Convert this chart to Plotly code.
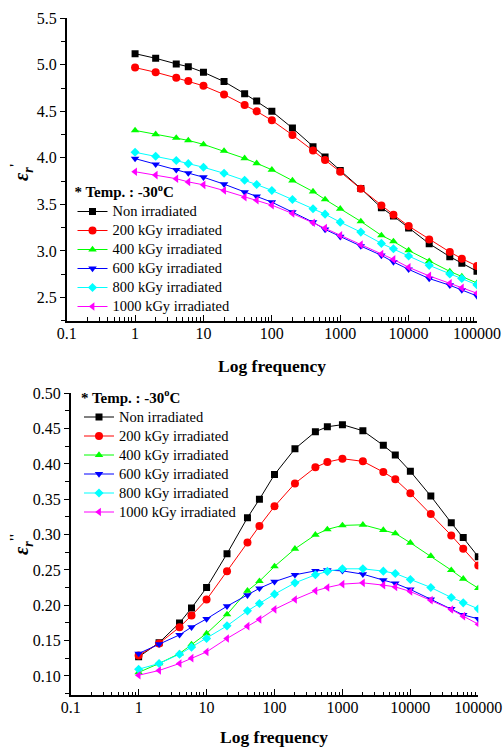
import plotly.graph_objects as go

# ---------------- data ----------------
freq = [1, 2, 4, 6, 10, 20, 40, 60, 100, 200, 400, 600, 1000, 2000, 4000,
        6000, 10000, 20000, 40000, 60000, 100000]

series_names = ["Non irradiated", "200 kGy irradiated", "400 kGy irradiated",
                "600 kGy irradiated", "800 kGy irradiated", "1000 kGy irradiated"]

# real part eps_r'
eps1_non = [5.12, 5.07, 5.01, 4.98, 4.92, 4.82, 4.69, 4.61, 4.50, 4.32, 4.12, 4.01,
            3.865, 3.67, 3.464, 3.374, 3.245, 3.078, 2.938, 2.867, 2.781]
eps1_200 = [4.97, 4.92, 4.86, 4.825, 4.774, 4.681, 4.568, 4.50, 4.403, 4.246, 4.078,
            3.978, 3.85, 3.667, 3.488, 3.389, 3.267, 3.124, 2.988, 2.917, 2.838]
eps1_400 = [4.295, 4.253, 4.214, 4.188, 4.145, 4.074, 3.995, 3.942, 3.872, 3.756, 3.638,
            3.553, 3.453, 3.317, 3.167, 3.102, 3.005, 2.89, 2.78, 2.725, 2.655]
eps1_600 = [3.992, 3.931, 3.871, 3.837, 3.792, 3.717, 3.631, 3.585, 3.524, 3.417, 3.309,
            3.231, 3.153, 3.052, 2.952, 2.881, 2.802, 2.703, 2.631, 2.580, 2.516]
eps1_800 = [4.06, 4.017, 3.971, 3.938, 3.899, 3.834, 3.759, 3.713, 3.65, 3.553, 3.453,
            3.395, 3.309, 3.202, 3.081, 3.024, 2.945, 2.845, 2.752, 2.703, 2.635]
eps1_1000 = [3.851, 3.815, 3.776, 3.742, 3.710, 3.649, 3.578, 3.545, 3.492, 3.402, 3.303,
             3.245, 3.167, 3.067, 2.967, 2.909, 2.824, 2.731, 2.652, 2.602, 2.545]

# imaginary part eps_r''
eps2_non = [0.127, 0.147, 0.175, 0.196, 0.225, 0.273, 0.324, 0.350, 0.385, 0.4215, 0.4456,
            0.4527, 0.4556, 0.447, 0.4263, 0.4126, 0.3895, 0.3545, 0.3167, 0.296, 0.2686]
eps2_200 = [0.129, 0.146, 0.169, 0.1855, 0.208, 0.248, 0.289, 0.3122, 0.340, 0.3725, 0.3952,
            0.4027, 0.4074, 0.4037, 0.3885, 0.3782, 0.3584, 0.3292, 0.2989, 0.280, 0.2564]
eps2_400 = [0.105, 0.1176, 0.1317, 0.1445, 0.160, 0.187, 0.2204, 0.234, 0.2549, 0.2799, 0.2997,
            0.3074, 0.313, 0.3139, 0.3064, 0.3017, 0.2884, 0.2696, 0.2497, 0.2374, 0.2242]
eps2_600 = [0.1317, 0.1449, 0.1581, 0.169, 0.1807, 0.1987, 0.2143, 0.224, 0.2334, 0.2431, 0.2487,
            0.2497, 0.2487, 0.244, 0.2356, 0.2309, 0.2224, 0.2082, 0.1949, 0.1864, 0.1807]
eps2_800 = [0.1095, 0.1176, 0.1307, 0.1407, 0.153, 0.1709, 0.1921, 0.2025, 0.2157, 0.2317, 0.2431,
            0.2479, 0.2516, 0.2516, 0.2483, 0.245, 0.2365, 0.2252, 0.211, 0.2034, 0.1949]
eps2_1000 = [0.101, 0.1077, 0.1176, 0.1251, 0.134, 0.153, 0.1704, 0.1801, 0.1942, 0.2082, 0.2204,
             0.2252, 0.2299, 0.2317, 0.2285, 0.226, 0.2195, 0.2072, 0.194, 0.1846, 0.1732]

x_tickvals = [0.1, 1, 10, 100, 1000, 10000, 100000]
x_ticktext = ["0.1", "1", "10", "100", "1000", "10000", "100000"]
y1_tickvals = [2.5, 3.0, 3.5, 4.0, 4.5, 5.0, 5.5]
y2_tickvals = [0.10, 0.15, 0.20, 0.25, 0.30, 0.35, 0.40, 0.45, 0.50]

colors = ["#000000", "#FF0000", "#00FF00", "#0000FF", "#00FFFF", "#FF00FF"]
symbols = ["square", "circle", "triangle-up", "triangle-down", "diamond", "triangle-left"]
sizes = [7, 8, 7.5, 7.5, 7, 7.5]

FONT = "Liberation Serif, Times New Roman, serif"

eps1 = [eps1_non, eps1_200, eps1_400, eps1_600, eps1_800, eps1_1000]
eps2 = [eps2_non, eps2_200, eps2_400, eps2_600, eps2_800, eps2_1000]


def label(name):
    return f"<span style='font-size:14.5px'>{name}</span>"


fig = go.Figure()
for i, name in enumerate(series_names):
    fig.add_trace(go.Scatter(
        x=freq, y=eps1[i], name=label(name), mode="lines+markers",
        line=dict(color=colors[i], width=1),
        marker=dict(symbol=symbols[i], size=sizes[i], color=colors[i]),
        xaxis="x", yaxis="y", legend="legend"))
for i, name in enumerate(series_names):
    fig.add_trace(go.Scatter(
        x=freq, y=eps2[i], name=label(name), mode="lines+markers",
        line=dict(color=colors[i], width=1),
        marker=dict(symbol=symbols[i], size=sizes[i], color=colors[i]),
        xaxis="x2", yaxis="y2", legend="legend2"))

# page body margin is removed (see post_script), so paper == screen
W, H = 504, 747


def px(x):  # screen x -> paper fraction
    return x / W


def py(y):  # screen y -> paper fraction
    return (H - y) / H


x_minor = []
for d in range(-1, 5):
    for m in range(2, 10):
        x_minor.append(m * 10 ** d)

xcommon = dict(type="log", range=[-1, 5], showline=True, linecolor="black", linewidth=1.5,
               ticks="inside", ticklen=6, tickwidth=1, tickcolor="black",
               tickvals=x_tickvals, ticktext=x_ticktext, ticklabelstandoff=-3,
               tickfont=dict(family=FONT, size=16, color="black"),
               minor=dict(tickvals=x_minor, ticks="inside", ticklen=3.5, tickwidth=1,
                          tickcolor="black", showgrid=False),
               showgrid=False, zeroline=False, automargin=False)
ycommon = dict(showline=True, linecolor="black", linewidth=1.5,
               ticks="outside", ticklen=5, tickwidth=1, tickcolor="black",
               tickfont=dict(family=FONT, size=16, color="black"),
               showgrid=False, zeroline=False, automargin=False)

legend_common = dict(xanchor="left", yanchor="top", bgcolor="rgba(0,0,0,0)", borderwidth=0,
                     font=dict(family=FONT, size=12, color="black"),
                     tracegroupgap=0, itemsizing="trace")
legend_title = "<b>* Temp. : -30<sup>o</sup>C</b>"

fig.update_layout(
    width=W, height=H, margin=dict(l=0, r=0, t=0, b=0, autoexpand=False),
    paper_bgcolor="white", plot_bgcolor="white",
    font=dict(family=FONT, color="black"),
    xaxis=dict(domain=[px(66.7), px(477)], anchor="y", **xcommon),
    yaxis=dict(domain=[py(320.7), py(18.3)], anchor="x", range=[2.25, 5.5],
               tickvals=y1_tickvals, ticktext=[f"{v:.1f}" for v in y1_tickvals],
               minor=dict(dtick=0.25, tick0=2.25, ticks="outside", ticklen=4,
                          tickwidth=1, tickcolor="black", showgrid=False),
               **ycommon),
    xaxis2=dict(domain=[px(70.7), px(478.3)], anchor="y2", **xcommon),
    yaxis2=dict(domain=[py(695), py(393.3)], anchor="x2", range=[0.073, 0.5],
                tickvals=y2_tickvals, ticktext=[f"{v:.2f}" for v in y2_tickvals],
                minor=dict(dtick=0.025, tick0=0.075, ticks="outside", ticklen=4,
                           tickwidth=1, tickcolor="black", showgrid=False),
                **ycommon),
    legend=dict(x=px(72.5), y=py(177.5),
                title=dict(text=legend_title, font=dict(family=FONT, size=15, color="black")),
                **legend_common),
    legend2=dict(x=px(79), y=py(383),
                 title=dict(text=legend_title, font=dict(family=FONT, size=15, color="black")),
                 **legend_common),
    annotations=[
        dict(text="<b>Log frequency</b>", x=px(272), y=py(366), xref="paper", yref="paper",
             xanchor="center", yanchor="middle",
             showarrow=False, font=dict(family=FONT, size=17.5, color="black")),
        dict(text="<b>Log frequency</b>", x=px(274), y=py(737), xref="paper", yref="paper",
             xanchor="center", yanchor="middle",
             showarrow=False, font=dict(family=FONT, size=17.5, color="black")),
        dict(text="<b><i>ε</i><sub><i>r</i></sub><sup>'</sup></b>", x=px(22), y=py(172),
             xref="paper", yref="paper", showarrow=False, textangle=-90,
             xanchor="center", yanchor="middle",
             font=dict(family=FONT, size=20, color="black")),
        dict(text="<b><i>ε</i><sub><i>r</i></sub><sup>''</sup></b>", x=px(22), y=py(545),
             xref="paper", yref="paper", showarrow=False, textangle=-90,
             xanchor="center", yanchor="middle",
             font=dict(family=FONT, size=20, color="black")),
    ],
)

fig.write_html(
    "out.html",
    config={"displayModeBar": False},
    post_script="document.body.style.margin='0';document.body.style.overflow='hidden';",
)
